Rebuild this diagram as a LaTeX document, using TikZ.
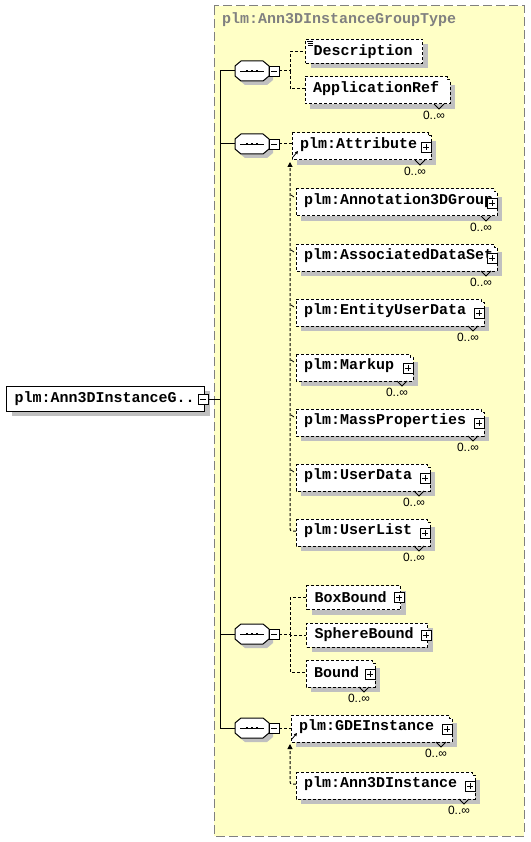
\documentclass[tikz,border=0pt]{standalone}
\usepackage{fontspec}
\setmonofont{Liberation Mono}
\newfontfamily\occfont{Liberation Sans}
\usetikzlibrary{arrows.meta,shadows}
\definecolor{bgy}{HTML}{FFFFC6}
\definecolor{bordg}{HTML}{808080}
\definecolor{shadowc}{HTML}{C0C0C0}
\newcommand\eltfont{\ttfamily\bfseries\fontsize{15pt}{15pt}\selectfont}
\tikzset{
  dl/.style={dash pattern=on 3pt off 2pt, line width=1pt},
  shd/.style={general shadow={fill=shadowc, shadow xshift=5pt, shadow yshift=-5pt}},
  single/.style={draw, dash pattern=on 3pt off 2pt, line width=1pt, fill=white, anchor=west,
    inner xsep=8pt, inner ysep=0pt, minimum height=24pt, align=left, font=\eltfont, shd},
  rootbox/.style={draw, solid, line width=1pt, fill=white, anchor=west, inner xsep=8pt,
    inner ysep=0pt, minimum height=25pt, align=left, font=\eltfont, shd},
  eltext/.style={anchor=west, inner xsep=8pt, inner ysep=0pt, font=\eltfont},
  minusbox/.style={draw, solid, fill=white, minimum size=10pt, inner sep=0pt, line width=0.8pt,
    path picture={\draw[solid,line width=0.8pt] ([xshift=2pt]path picture bounding box.west) -- ([xshift=-2pt]path picture bounding box.east);}},
  plusbox/.style={draw, solid, fill=white, minimum size=10pt, inner sep=0pt, line width=0.8pt,
    path picture={\draw[solid,line width=0.8pt] ([xshift=2pt]path picture bounding box.west) -- ([xshift=-2pt]path picture bounding box.east);
      \draw[solid,line width=0.8pt] ([yshift=-2pt]path picture bounding box.north) -- ([yshift=2pt]path picture bounding box.south);}},
  occ/.style={font=\occfont\fontsize{12pt}{12pt}\selectfont, inner sep=0pt},
  tick/.style={line width=0.8pt},
  subarrow/.style={dl, rounded corners=2pt, -{Triangle[length=5pt,width=5pt]}},
  diag/.style={line width=0.8pt, -{Triangle[length=3pt,width=3pt]}}
}
% sequence compositor: name, cx, cy
\newcommand\seqnode[3]{%
  \fill[shadowc] ({#2-7},{#3-6}) -- ({#2+15},{#3-6}) -- ({#2+21},{#3-1}) -- ({#2+21},{#3+9}) -- ({#2+15},{#3+14}) -- ({#2-7},{#3+14}) -- ({#2-13},{#3+9}) -- ({#2-13},{#3-1}) -- cycle;
  \draw[fill=white, line width=1pt] ({#2-11},{#3-10}) -- ({#2+11},{#3-10}) -- ({#2+17},{#3-5}) -- ({#2+17},{#3+5}) -- ({#2+11},{#3+10}) -- ({#2-11},{#3+10}) -- ({#2-17},{#3+5}) -- ({#2-17},{#3-5}) -- cycle;
  \draw[line width=0.9pt] ({#2-12},#3) -- ({#2+12},#3);
  \foreach \dx in {-5,0,5} \fill ({#2+\dx-1.3},{#3-1.4}) rectangle ({#2+\dx+1.3},{#3+1.4});
  \node[inner sep=0pt, minimum width=34pt, minimum height=20pt] (#1) at (#2,#3) {};
}
% multi-occurrence element without expand box: name, L, T, R, text
\newcommand\elemmultibase[5]{%
  \fill[shadowc] ({#2+5},{#3+8}) rectangle ({#4+5},{#3+32});
  \draw[dl, fill=white] (#2,#3) -- ({#4-3},#3) -- ({#4-3},{#3+3}) -- (#4,{#3+3}) -- (#4,{#3+27}) -- (#2,{#3+27}) -- cycle;
  \draw[line width=0.8pt] ({#4-16},{#3+27}) -- ({#4-11},{#3+32}) -- ({#4-6},{#3+27});
  \node[eltext] (#1) at (#2,{#3+12}) {#5};
  \node[occ] (#1o) at ({#4-16},{#3+38}) {0..∞};
}
% multi-occurrence element with expand box
\newcommand\elemmulti[5]{%
  \elemmultibase{#1}{#2}{#3}{#4}{#5}%
  \node[plusbox] (#1p) at ({#4-5},{#3+14}) {};
}
\begin{document}
\begin{tikzpicture}[x=1pt,y=-1pt]
\useasboundingbox (0,0) rectangle (530,842);
\fill[white] (0,0) rectangle (530,842);
\draw[bordg, fill=bgy, dash pattern=on 9pt off 4pt, line width=1pt] (214,6) rectangle (524,836);
\node[anchor=west, font=\eltfont, text=bordg, inner sep=0pt] (title) at (222,20) {plm:Ann3DInstanceGroupType};

% root
\node[rootbox, text width=182pt] (root) at (6,398.5) {plm:Ann3DInstanceG..};
\node[minusbox] (rm) at (203,399) {};

% sequences
\seqnode{s1}{252}{71}
\seqnode{s2}{252}{144}
\seqnode{s3}{252}{634}
\seqnode{s4}{252}{728}
\node[minusbox] (m1) at (274,71) {};
\node[minusbox] (m2) at (274,144) {};
\node[minusbox] (m3) at (274,634) {};
\node[minusbox] (m4) at (274,728) {};

\coordinate (tt) at (220,71);
\coordinate (tb) at (220,728);
\draw[line width=1pt] (s1.west) -- (tt) -- (tb) -- (s4.west);
\draw[line width=1pt] (s2.west) -- (s2.west -| tt);
\draw[line width=1pt] (s3.west) -- (s3.west -| tt);
\draw[line width=1pt] (rm.east) -- (rm.east -| tt);

% sequence 1
\node[single, text width=101pt] (desc) at (305,51.5) {Description};
\draw[line width=0.8pt] (307,41.5) -- (313,41.5) (308,43.5) -- (313,43.5) (308,45.5) -- (313,45.5);
\elemmultibase{appref}{305}{77}{450}{ApplicationRef}
\coordinate (j1) at (290,71);
\draw[dl] (m1.east) -- (j1) |- (desc.west);
\draw[dl] (j1) |- (appref.west);

% sequence 2 (substitution group)
\elemmulti{attr}{292}{133}{431}{plm:Attribute}
\elemmulti{annot}{296}{189}{497}{plm:Annotation3DGroup}
\elemmulti{assoc}{296}{244}{497}{plm:AssociatedDataSet}
\elemmulti{entity}{296}{299}{484}{plm:EntityUserData}
\elemmulti{markup}{296}{354}{413}{plm:Markup}
\elemmulti{mass}{296}{409}{484}{plm:MassProperties}
\elemmulti{udata}{296}{464}{430}{plm:UserData}
\elemmulti{ulist}{296}{519}{430}{plm:UserList}
\draw[dl] (m2.east) -- (m2.east -| attr.west);
\coordinate (ga) at (290,162);
\draw[subarrow] (ulist.west) -| (ga);
\foreach \n in {annot,assoc,entity,markup,mass,udata}
  \draw[tick] ([shift={(-5pt,6pt)}]\n.west) -- ([shift={(-2pt,4pt)}]\n.west);
\draw[diag] ([shift={(1pt,-12pt)}]attr.west) -- ([shift={(6pt,-6pt)}]attr.west);

% sequence 3
\node[single, text width=78pt] (boxb) at (306,597.5) {BoxBound};
\node[plusbox] (boxbp) at (399,597.5) {};
\node[single, text width=105pt] (sphere) at (306,635) {SphereBound};
\node[plusbox] (spherep) at (426,635) {};
\elemmulti{bound}{306}{660}{375}{Bound}
\coordinate (j3) at (290,634);
\draw[dl] (m3.east) -- (j3) |- (boxb.west);
\draw[dl] (j3) |- (sphere.west);
\draw[dl] (j3) |- (bound.west);

% sequence 4 (substitution group)
\elemmulti{gde}{291}{715}{452}{plm:GDEInstance}
\elemmulti{ann}{296}{772}{475}{plm:Ann3DInstance}
\draw[dl] (m4.east) -- (m4.east -| gde.west);
\coordinate (gb) at (290,744);
\draw[subarrow] (ann.west) -| (gb);
\draw[diag] ([shift={(1pt,-12pt)}]gde.west) -- ([shift={(6pt,-6pt)}]gde.west);
\end{tikzpicture}
\end{document}
